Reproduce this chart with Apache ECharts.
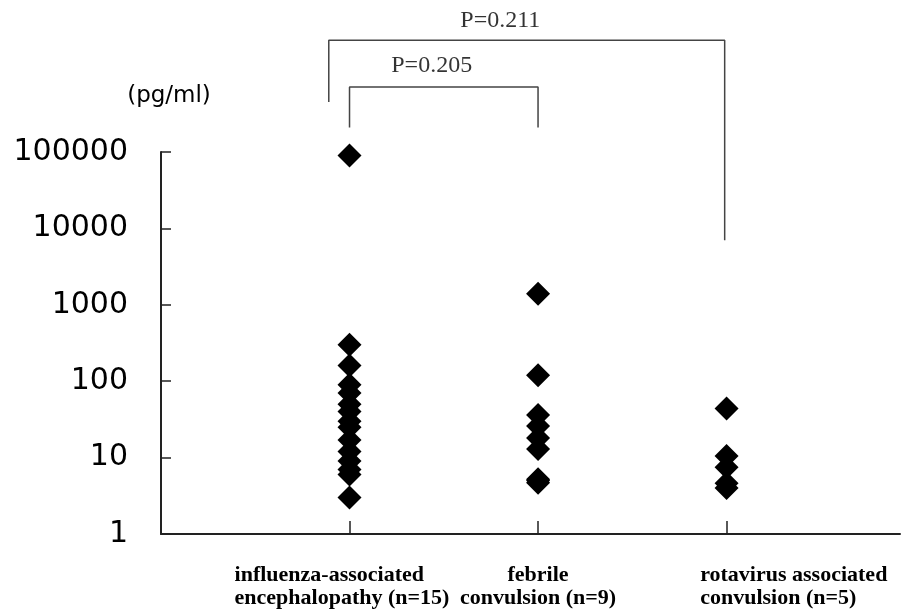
<!DOCTYPE html>
<html>
<head>
<meta charset="utf-8">
<script src="https://cdn.jsdelivr.net/npm/echarts@6/dist/echarts.min.js"></script>
<style>
  html, body { margin: 0; padding: 0; background: #fff; }
  #chart { width: 902px; height: 612px; }
</style>
</head>
<body>
<div id="chart"></div>
<script>
// ---- data ----
const categories = [
  'influenza-associated\nencephalopathy (n=15)',
  'febrile\nconvulsion (n=9)',
  'rotavirus associated\nconvulsion (n=5)'
];
const influenza = [90000, 300, 160, 90, 70, 50, 40, 30, 25, 17, 12, 9, 7, 6, 3];
const febrile = [1400, 120, 36, 26, 18, 13, 5.2, 5.0, 4.7];
const rotavirus = [44, 10.5, 7.5, 4.6, 4.0];
const yTicks = [1, 10, 100, 1000, 10000, 100000];
const yUnit = '(pg/ml)';
// significance brackets (data space) and labels
const bracketBig = [[0.89, 4.5e5], [0.89, 2.9e6], [2.99, 2.9e6], [2.99, 7000]];
const bracketSmall = [[1, 2.1e5], [1, 7.1e5], [2, 7.1e5], [2, 2.1e5]];
const pLabels = [[1.80, 5.2e6, 'P=0.211'], [1.436, 1.34e6, 'P=0.205']];

const groups = [influenza, febrile, rotavirus];

const chart = echarts.init(document.getElementById('chart'));
const labelFont = { fontFamily: 'Liberation Serif', fontWeight: 'bold', fontSize: 22, lineHeight: 23, color: '#000' };

const scatterSeries = groups.map((vals, gi) => ({
  type: 'scatter',
  symbol: 'diamond',
  symbolSize: 24,
  itemStyle: { color: '#000', opacity: 1 },
  data: vals.map(v => [gi + 1, v]),
  z: 3
}));

const bracketStyle = { color: '#444', width: 1.5 };

// one label-only x axis per category so that their alignments can differ
function labelAxis(pos, idx, align, rich) {
  return {
    type: 'value',
    position: 'bottom',
    min: 0,
    max: 3.92,
    axisLine: { show: false, onZero: false },
    axisTick: { show: false },
    splitLine: { show: false },
    axisLabel: Object.assign({
      show: true,
      customValues: [pos],
      showMinLabel: true,
      showMaxLabel: true,
      align: align,
      margin: 30,
      formatter: function () { return rich ? '{t|' + categories[idx] + '}' : categories[idx]; },
      rich: rich ? { t: Object.assign({ align: 'left' }, labelFont) } : undefined
    }, labelFont)
  };
}

chart.setOption({
  animation: false,
  backgroundColor: '#fff',
  grid: { left: 161, top: 152, width: 739, height: 382, containLabel: false },
  xAxis: [{
    type: 'value',
    min: 0,
    max: 3.92,
    axisLine: { show: true, onZero: false, lineStyle: { color: '#222', width: 2 } },
    axisTick: { show: true, inside: true, length: 13, customValues: [1, 2, 3], lineStyle: { color: '#222', width: 1.5 } },
    splitLine: { show: false },
    axisLabel: { show: false }
  },
    labelAxis(0.96, 0, 'center', true),
    labelAxis(2, 1, 'center', false),
    labelAxis(2.86, 2, 'left', false)
  ],
  yAxis: {
    type: 'log',
    logBase: 10,
    min: yTicks[0],
    max: yTicks[yTicks.length - 1],
    name: yUnit,
    nameLocation: 'end',
    nameGap: 44,
    nameTextStyle: { fontFamily: 'DejaVu Sans', fontSize: 23, color: '#000', padding: [0, 0, 0, 16] },
    axisLine: { show: true, lineStyle: { color: '#222', width: 2 } },
    axisTick: { show: true, inside: true, length: 10, lineStyle: { color: '#222', width: 1.5 } },
    splitLine: { show: false },
    axisLabel: {
      margin: 33,
      fontFamily: 'DejaVu Sans',
      fontSize: 30,
      color: '#000',
      formatter: function (v) { return String(Math.round(v)); }
    }
  },
  series: scatterSeries.concat([
    {
      type: 'line', data: bracketBig, symbol: 'none', clip: false, silent: true,
      lineStyle: bracketStyle, z: 2
    },
    {
      type: 'line', data: bracketSmall, symbol: 'none', clip: false, silent: true,
      lineStyle: bracketStyle, z: 2
    },
    {
      type: 'scatter', symbolSize: 0, clip: false, silent: true,
      data: pLabels,
      label: {
        show: true, position: 'inside',
        formatter: function (p) { return p.value[2]; },
        fontFamily: 'Liberation Serif', fontSize: 24, color: '#000'
      }
    }
  ])
});
</script>
</body>
</html>
